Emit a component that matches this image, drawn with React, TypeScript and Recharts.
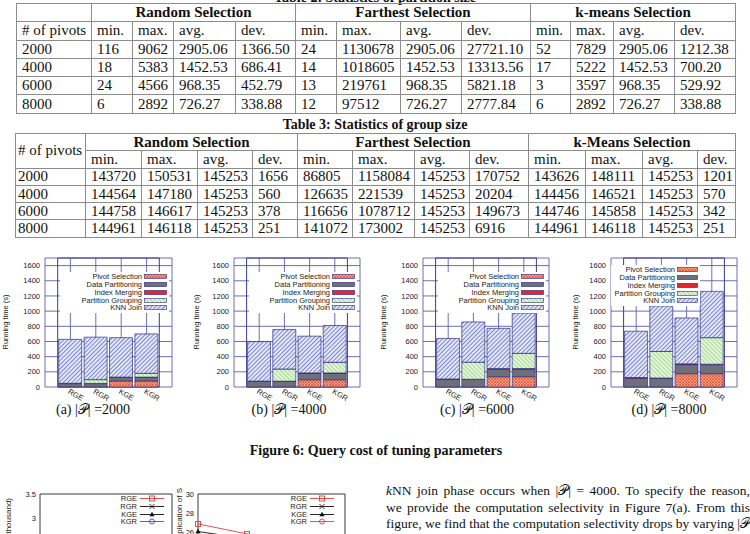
import React from "react";
import { Bar, BarChart, CartesianGrid, Legend, Line, LineChart, ReferenceArea, XAxis, YAxis } from "recharts";

const SERIF = '"Liberation Serif", "Times New Roman", serif';
const SANS = '"Liberation Sans", Arial, sans-serif';
const FRAME = "#3b3b93";
const GRID = "#5d5dad";
const BAR_EDGE = "#2d2d84";

// ---- Table 2 / Table 3 ----
const PIVOT_COUNTS = ["2000", "4000", "6000", "8000"];
const STAT_COLS = ["min.", "max.", "avg.", "dev."];

const PARTITION_RANDOM = [
	["116", "9062", "2905.06", "1366.50"],
	["18", "5383", "1452.53", "686.41"],
	["24", "4566", "968.35", "452.79"],
	["6", "2892", "726.27", "338.88"],
];
const PARTITION_FARTHEST = [
	["24", "1130678", "2905.06", "27721.10"],
	["14", "1018605", "1452.53", "13313.56"],
	["13", "219761", "968.35", "5821.18"],
	["12", "97512", "726.27", "2777.84"],
];
const PARTITION_KMEANS = [
	["52", "7829", "2905.06", "1212.38"],
	["17", "5222", "1452.53", "700.20"],
	["3", "3597", "968.35", "529.92"],
	["6", "2892", "726.27", "338.88"],
];

const GROUP_RANDOM = [
	["143720", "150531", "145253", "1656"],
	["144564", "147180", "145253", "560"],
	["144758", "146617", "145253", "378"],
	["144961", "146118", "145253", "251"],
];
const GROUP_FARTHEST = [
	["86805", "1158084", "145253", "170752"],
	["126635", "221539", "145253", "20204"],
	["116656", "1078712", "145253", "149673"],
	["141072", "173002", "145253", "6916"],
];
const GROUP_KMEANS = [
	["143626", "148111", "145253", "1201"],
	["144456", "146521", "145253", "570"],
	["144746", "145858", "145253", "342"],
	["144961", "146118", "145253", "251"],
];

// ---- Figure 6: running time per phase (s) ----
const STRATEGIES = ["RGE", "RGR", "KGE", "KGR"];
const PANEL_SIZES = ["2000", "4000", "6000", "8000"];
const PANEL_LETTERS = ["a", "b", "c", "d"];
const PIVOT_SELECTION = [
	[0, 0, 80, 80],
	[0, 0, 95, 95],
	[0, 0, 135, 135],
	[0, 0, 175, 175],
];
const DATA_PARTITIONING = [
	[45, 45, 45, 45],
	[75, 75, 85, 85],
	[100, 100, 100, 100],
	[115, 115, 120, 120],
];
const INDEX_MERGING = [
	[3, 2, 5, 5],
	[3, 2, 5, 5],
	[5, 2, 8, 8],
	[10, 3, 10, 5],
];
const PARTITION_GROUPING = [
	[0, 50, 0, 50],
	[0, 160, 0, 140],
	[0, 225, 0, 200],
	[0, 350, 0, 350],
];
const KNN_JOIN = [
	[580, 560, 520, 520],
	[520, 520, 485, 485],
	[535, 530, 530, 530],
	[610, 600, 605, 610],
];
const TIME_TICKS = [0, 200, 400, 600, 800, 1000, 1200, 1400, 1600];

// ---- Figure 7 (only its top is on the page) ----
const FIG7_X = ["2000", "4000", "6000", "8000"];
const SELECTIVITY_RGE = [2.3, 2.1, 1.9, 1.8];
const SELECTIVITY_RGR = [2.2, 2.0, 1.8, 1.7];
const SELECTIVITY_KGE = [1.9, 1.7, 1.6, 1.5];
const SELECTIVITY_KGR = [1.8, 1.6, 1.5, 1.4];
const SELECTIVITY_TICKS = [1, 1.5, 2, 2.5, 3, 3.5];
const REPLICATION_RGE = [26.85, 25.8, 25.2, 24.8];
const REPLICATION_RGR = [25.0, 24.7, 24.5, 24.3];
const REPLICATION_KGE = [26.05, 25.3, 24.9, 24.6];
const REPLICATION_KGR = [25.2, 24.9, 24.6, 24.4];
const REPLICATION_TICKS = [24, 26, 28, 30];

const PHASES = [
	{ key: "pivot", name: "Pivot Selection" },
	{ key: "partition", name: "Data Partitioning" },
	{ key: "merge", name: "Index Merging" },
	{ key: "group", name: "Partition Grouping" },
	{ key: "join", name: "KNN Join" },
];

function phaseFill(key: string, i: number): string {
	switch (key) {
		case "pivot":
			return `url(#pv${i})`;
		case "partition":
			return "#6f6f79";
		case "merge":
			return "#e3262b";
		case "group":
			return `url(#gr${i})`;
		default:
			return `url(#kj${i})`;
	}
}

const cell: React.CSSProperties = {
	border: "1px solid #8c8c8c",
	padding: "0 0 0 5px",
	whiteSpace: "nowrap",
	textAlign: "left",
	fontWeight: 400,
	overflow: "hidden",
};
const headCell: React.CSSProperties = { ...cell, textAlign: "center", fontWeight: 700, padding: 0 };

function PartitionTable() {
	const widths = [75, 41, 41, 62, 60, 41, 64, 61, 69, 40, 43, 61, 61];
	const rowH = 18.3;
	return (
		<table
			style={{
				position: "absolute",
				left: 16,
				top: 3,
				borderCollapse: "collapse",
				tableLayout: "fixed",
				width: widths.reduce((a, b) => a + b, 0),
				fontFamily: SERIF,
				fontSize: 15,
				lineHeight: 1,
			}}
		>
			<colgroup>
				{widths.map((w, i) => (
					<col key={i} style={{ width: w }} />
				))}
			</colgroup>
			<tbody>
				<tr style={{ height: rowH }}>
					<td style={cell}></td>
					<td colSpan={4} style={headCell}>Random Selection</td>
					<td colSpan={4} style={headCell}>Farthest Selection</td>
					<td colSpan={4} style={headCell}>k-means Selection</td>
				</tr>
				<tr style={{ height: rowH }}>
					<td style={cell}># of pivots</td>
					{[0, 1, 2].flatMap((g) => STAT_COLS.map((s) => <td key={`${g}${s}`} style={cell}>{s}</td>))}
				</tr>
				{PIVOT_COUNTS.map((p, r) => (
					<tr key={p} style={{ height: rowH }}>
						<td style={cell}>{p}</td>
						{[...PARTITION_RANDOM[r], ...PARTITION_FARTHEST[r], ...PARTITION_KMEANS[r]].map((v, c) => (
							<td key={c} style={cell}>{v}</td>
						))}
					</tr>
				))}
			</tbody>
		</table>
	);
}

function GroupTable() {
	const widths = [70, 56, 56, 55, 45, 55, 62, 55, 59, 57, 57, 55, 38];
	const rowH = 17.3;
	return (
		<table
			style={{
				position: "absolute",
				left: 15,
				top: 133,
				borderCollapse: "collapse",
				tableLayout: "fixed",
				width: widths.reduce((a, b) => a + b, 0),
				fontFamily: SERIF,
				fontSize: 15,
				lineHeight: 1,
			}}
		>
			<colgroup>
				{widths.map((w, i) => (
					<col key={i} style={{ width: w }} />
				))}
			</colgroup>
			<tbody>
				<tr style={{ height: rowH }}>
					<td rowSpan={2} style={{ ...cell, paddingLeft: 2 }}># of pivots</td>
					<td colSpan={4} style={headCell}>Random Selection</td>
					<td colSpan={4} style={headCell}>Farthest Selection</td>
					<td colSpan={4} style={headCell}>k-Means Selection</td>
				</tr>
				<tr style={{ height: rowH }}>
					{[0, 1, 2].flatMap((g) => STAT_COLS.map((s) => <td key={`${g}${s}`} style={cell}>{s}</td>))}
				</tr>
				{PIVOT_COUNTS.map((p, r) => (
					<tr key={p} style={{ height: rowH }}>
						<td style={{ ...cell, paddingLeft: 2 }}>{p}</td>
						{[...GROUP_RANDOM[r], ...GROUP_FARTHEST[r], ...GROUP_KMEANS[r]].map((v, c) => (
							<td key={c} style={cell}>{v}</td>
						))}
					</tr>
				))}
			</tbody>
		</table>
	);
}

function RotatedTitle({
	px,
	py,
	text,
	anchor = "middle",
	size = 7.5,
}: {
	px: number;
	py: number;
	text: string;
	anchor?: string;
	size?: number;
}) {
	return (
		<text
			x={px}
			y={py}
			transform={`rotate(-90 ${px} ${py})`}
			textAnchor={anchor}
			fontSize={size}
			fontFamily={SANS}
			fill="#222"
		>
			{text}
		</text>
	);
}

function SlantTick(props: any) {
	const { x, y, payload } = props;
	const tx = x - 3;
	const ty = y + 6;
	return (
		<text x={tx} y={ty} transform={`rotate(30 ${tx} ${ty})`} fontSize={7.5} fontFamily={SANS} fill="#222">
			{payload.value}
		</text>
	);
}

interface LegendLayout {
	left: number;
	top: number;
	width: number;
	swatch: number;
}

function PhaseLegend({ i, layout }: { i: number; layout: LegendLayout }) {
	return (
		<div style={{ background: "#fff", width: layout.width, padding: "1px 2px 1px 0", boxSizing: "border-box" }}>
			{PHASES.map((p) => (
				<div
					key={p.key}
					style={{
						display: "flex",
						justifyContent: "flex-end",
						alignItems: "center",
						height: 7.75,
						fontSize: 7.5,
						fontFamily: SANS,
						color: "#222",
						whiteSpace: "nowrap",
					}}
				>
					<span>{p.name}</span>
					<svg width={layout.swatch} height={5} style={{ marginLeft: 2, display: "block" }}>
						<rect x={0.4} y={0.4} width={layout.swatch - 0.8} height={4.2} fill={phaseFill(p.key, i)} stroke={BAR_EDGE} strokeWidth={0.6} />
					</svg>
				</div>
			))}
		</div>
	);
}

const PANEL_LEFT = [0, 189, 378, 566];
const PANEL_PLOT_W = [127, 126, 126, 126];
const PANEL_LABEL_X = [8, 10, 8, 12];

function legendLayoutFor(i: number): LegendLayout {
	const plotRight = 45 + PANEL_PLOT_W[i];
	if (i === 3) return { left: 45, top: 15, width: plotRight - 37 - 45, swatch: 21 };
	return { left: 60, top: 22, width: plotRight - 3 - 60, swatch: 23 };
}

function RunningTimePanel({ i }: { i: number }) {
	const data = STRATEGIES.map((s, j) => ({
		strategy: s,
		pivot: PIVOT_SELECTION[i][j],
		partition: DATA_PARTITIONING[i][j],
		merge: INDEX_MERGING[i][j],
		group: PARTITION_GROUPING[i][j],
		join: KNN_JOIN[i][j],
	}));
	const plotW = PANEL_PLOT_W[i];
	const width = 180;
	const pad = plotW / 10;
	const lg = legendLayoutFor(i);
	return (
		<div style={{ position: "absolute", left: PANEL_LEFT[i], top: 250 }}>
			<BarChart
				width={width}
				height={170}
				data={data}
				margin={{ top: 8, right: width - 45 - plotW, left: 0, bottom: 0 }}
				barSize={23}
			>
				<defs>
					<pattern id={`kj${i}`} patternUnits="userSpaceOnUse" width={3} height={3} patternTransform="rotate(45)">
						<rect width={3} height={3} fill="#e4e7f8" />
						<line x1={0} y1={0} x2={0} y2={3} stroke="#5867c2" strokeWidth={1.5} />
					</pattern>
					<pattern id={`gr${i}`} patternUnits="userSpaceOnUse" width={3} height={3} patternTransform="rotate(-45)">
						<rect width={3} height={3} fill="#e6f6dc" />
						<line x1={0} y1={0} x2={0} y2={3} stroke="#86cf74" strokeWidth={1.4} />
					</pattern>
					<pattern id={`pv${i}`} patternUnits="userSpaceOnUse" width={3} height={3}>
						<rect width={3} height={3} fill="#f7a184" />
						<path d="M0,0 L3,3 M3,0 L0,3" stroke="#ee5634" strokeWidth={0.8} />
					</pattern>
				</defs>
				<CartesianGrid stroke={GRID} strokeWidth={0.9} />
				<XAxis
					dataKey="strategy"
					height={33}
					padding={{ left: pad, right: pad }}
					axisLine={false}
					tickLine={false}
					tickSize={0}
					tickMargin={0}
					interval={0}
					tick={<SlantTick />}
				/>
				<YAxis
					type="number"
					domain={[0, 1700]}
					ticks={TIME_TICKS}
					interval={0}
					width={45}
					axisLine={false}
					tickLine={false}
					tickSize={0}
					tickMargin={5}
					tick={{ fontSize: 7.5, fill: "#222", fontFamily: SANS }}
					label={<RotatedTitle px={PANEL_LABEL_X[i]} py={72} text="Running time (s)" />}
				/>
				<ReferenceArea y1={0} y2={1700} fill="none" stroke={FRAME} strokeWidth={1} />
				{PHASES.map((p) => (
					<Bar
						key={p.key}
						dataKey={p.key}
						name={p.name}
						stackId="t"
						fill={phaseFill(p.key, i)}
						stroke={BAR_EDGE}
						strokeWidth={0.7}
						isAnimationActive={false}
					/>
				))}
				<Legend
					verticalAlign="middle"
					align="center"
					layout="horizontal"
					wrapperStyle={{ left: lg.left, top: lg.top, width: lg.width, height: "auto" }}
					content={() => <PhaseLegend i={i} layout={lg} />}
				/>
			</BarChart>
		</div>
	);
}

const PANEL_CAPTION_X = [93, 289, 477, 669];

function Marker({ cx, cy, shape, color }: { cx: number; cy: number; shape: string; color: string }) {
	if (cx == null || cy == null) return null;
	switch (shape) {
		case "square":
			return <rect x={cx - 2.5} y={cy - 2.5} width={5} height={5} fill="none" stroke={color} strokeWidth={0.9} />;
		case "cross":
			return <path d={`M${cx - 2.5},${cy - 2.5}L${cx + 2.5},${cy + 2.5}M${cx + 2.5},${cy - 2.5}L${cx - 2.5},${cy + 2.5}`} stroke={color} strokeWidth={0.9} />;
		case "triangle":
			return <path d={`M${cx},${cy - 2.8}L${cx + 2.6},${cy + 1.8}L${cx - 2.6},${cy + 1.8}Z`} fill={color} />;
		default:
			return <circle cx={cx} cy={cy} r={2.5} fill="none" stroke={color} strokeWidth={0.9} />;
	}
}

interface LineSeries {
	key: string;
	name: string;
	values: number[];
	color: string;
	shape: string;
}

function LineLegend({ series, width }: { series: LineSeries[]; width: number }) {
	return (
		<div style={{ width, background: "#fff" }}>
			{series.map((s) => (
				<div
					key={s.key}
					style={{
						display: "flex",
						justifyContent: "flex-end",
						alignItems: "center",
						height: 7.7,
						fontSize: 7.5,
						fontFamily: SANS,
						color: "#222",
					}}
				>
					<span>{s.name}</span>
					<svg width={25} height={7} style={{ marginLeft: 3, display: "block" }}>
						<line x1={0} y1={3.5} x2={24} y2={3.5} stroke={s.color} strokeWidth={0.9} />
						<Marker cx={12} cy={3.5} shape={s.shape} color={s.color} />
					</svg>
				</div>
			))}
		</div>
	);
}

function Fig7Panel({
	left,
	axisW,
	plotW,
	plotH,
	domain,
	ticks,
	series,
	title,
	titleX,
	titleY,
	legendRight,
}: {
	left: number;
	axisW: number;
	plotW: number;
	plotH: number;
	domain: [number, number];
	ticks: number[];
	series: LineSeries[];
	title: string;
	titleX: number;
	titleY: number;
	legendRight: number;
}) {
	const data = FIG7_X.map((x, j) => {
		const row: Record<string, number | string> = { size: x };
		series.forEach((s) => {
			row[s.key] = s.values[j];
		});
		return row;
	});
	const width = axisW + plotW + 8;
	return (
		<div style={{ position: "absolute", left, top: 486 }}>
			<LineChart width={width} height={8 + plotH + 20} data={data} margin={{ top: 8, right: 8, left: 0, bottom: 0 }}>
				<XAxis dataKey="size" height={20} axisLine={false} tickLine={false} tick={{ fontSize: 7.5, fill: "#222", fontFamily: SANS }} />
				<YAxis
					type="number"
					domain={domain}
					ticks={ticks}
					interval={0}
					width={axisW}
					axisLine={false}
					tickLine={false}
					tickSize={0}
					tickMargin={4}
					tick={{ fontSize: 7.5, fill: "#222", fontFamily: SANS }}
					label={<RotatedTitle px={titleX} py={titleY} text={title} anchor="end" size={8} />}
				/>
				<ReferenceArea y1={domain[0]} y2={domain[1]} fill="none" stroke="#222" strokeWidth={0.9} />
				{series.map((s) => (
					<Line
						key={s.key}
						dataKey={s.key}
						name={s.name}
						stroke={s.color}
						strokeWidth={0.9}
						isAnimationActive={false}
						dot={(p: any) => <Marker key={`${s.key}${p.index}`} cx={p.cx} cy={p.cy} shape={s.shape} color={s.color} />}
					/>
				))}
				<Legend
					verticalAlign="middle"
					align="center"
					layout="horizontal"
					wrapperStyle={{ left: legendRight - 110, top: 9, width: 112, height: "auto" }}
					content={() => <LineLegend series={series} width={112} />}
				/>
			</LineChart>
		</div>
	);
}

const SELECTIVITY_SERIES: LineSeries[] = [
	{ key: "rge", name: "RGE", values: SELECTIVITY_RGE, color: "#e0403c", shape: "square" },
	{ key: "rgr", name: "RGR", values: SELECTIVITY_RGR, color: "#111", shape: "cross" },
	{ key: "kge", name: "KGE", values: SELECTIVITY_KGE, color: "#111", shape: "triangle" },
	{ key: "kgr", name: "KGR", values: SELECTIVITY_KGR, color: "#3d52c4", shape: "circle" },
];
const REPLICATION_SERIES: LineSeries[] = [
	{ key: "rge", name: "RGE", values: REPLICATION_RGE, color: "#e0403c", shape: "square" },
	{ key: "rgr", name: "RGR", values: REPLICATION_RGR, color: "#111", shape: "cross" },
	{ key: "kge", name: "KGE", values: REPLICATION_KGE, color: "#111", shape: "triangle" },
	{ key: "kgr", name: "KGR", values: REPLICATION_KGR, color: "#e0403c", shape: "circle" },
];

const P = "\u{1D4AB}";

const lineStyle: React.CSSProperties = {
	position: "absolute",
	left: 386,
	width: 364,
	fontFamily: SERIF,
	fontSize: 13.5,
	lineHeight: "16px",
	textAlign: "justify",
	textAlignLast: "justify",
	whiteSpace: "nowrap",
	color: "#111",
};

export default function App() {
	return (
		<div
			style={{
				position: "absolute",
				left: 0,
				top: 0,
				width: 750,
				height: 534,
				overflow: "hidden",
				background: "#fff",
				color: "#111",
				fontFamily: SERIF,
			}}
		>
			<div style={{ position: "absolute", left: 0, top: -9, width: 750, textAlign: "center", fontWeight: 700, fontSize: 14, lineHeight: "14px" }}>
				Table 2: Statistics of partition size
			</div>
			<PartitionTable />
			<div style={{ position: "absolute", left: 0, top: 118, width: 750, textAlign: "center", fontWeight: 700, fontSize: 14, lineHeight: "14px" }}>
				Table 3: Statistics of group size
			</div>
			<GroupTable />

			{PANEL_SIZES.map((_, i) => (
				<RunningTimePanel key={i} i={i} />
			))}
			{PANEL_SIZES.map((size, i) => (
				<div
					key={size}
					style={{ position: "absolute", left: PANEL_CAPTION_X[i] - 60, top: 402, width: 120, textAlign: "center", fontSize: 14, lineHeight: "16px", whiteSpace: "nowrap" }}
				>
					({PANEL_LETTERS[i]}) |{P}| ={size}
				</div>
			))}
			<div style={{ position: "absolute", left: 0, top: 444, width: 752, textAlign: "center", fontWeight: 700, fontSize: 14, lineHeight: "14px" }}>
				Figure 6: Query cost of tuning parameters
			</div>

			<Fig7Panel
				left={0}
				axisW={40}
				plotW={132}
				plotH={120}
				domain={[1, 3.5]}
				ticks={SELECTIVITY_TICKS}
				series={SELECTIVITY_SERIES}
				title="Computation selectivity (per thousand)"
				titleX={11}
				titleY={12}
				legendRight={163}
			/>
			<Fig7Panel
				left={160}
				axisW={38}
				plotW={147}
				plotH={57}
				domain={[24, 30]}
				ticks={REPLICATION_TICKS}
				series={REPLICATION_SERIES}
				title="Replication of S"
				titleX={22}
				titleY={2}
				legendRight={173}
			/>

			<div style={{ ...lineStyle, top: 483 }}>
				<i>k</i>NN join phase occurs when |{P}| = 4000. To specify the reason,
			</div>
			<div style={{ ...lineStyle, top: 500 }}>we provide the computation selectivity in Figure 7(a). From this</div>
			<div style={{ ...lineStyle, top: 516 }}>
				figure, we find that the computation selectivity drops by varying |{P}|
			</div>
		</div>
	);
}
